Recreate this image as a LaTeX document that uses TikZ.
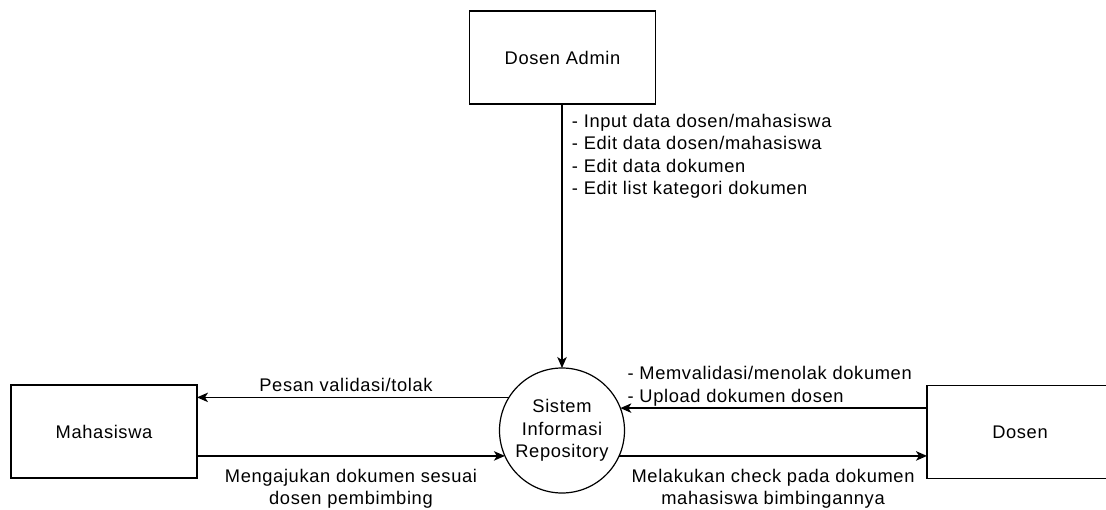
\documentclass[tikz,border=0pt]{standalone}
\usepackage{fontspec}
\setmainfont[LetterSpace=3.5]{Liberation Sans}
\usetikzlibrary{arrows.meta}
\tikzset{
	x=1pt, y=-1pt, % one unit is one pixel, y runs down
	>={Stealth[length=11pt, width=9.5pt, inset=3pt]}, % filled arrow heads
	every node/.style={font=\fontsize{18.3}{22.5}\selectfont},
	entity/.style={draw, line width=1.3pt, minimum width=186pt, minimum height=93pt, outer sep=0pt}, % external entities
	process/.style={draw, circle, line width=1.2pt, minimum size=125pt, inner sep=0pt, outer sep=0pt, align=center}, % the system itself
	flow/.style={->, line width=1.3pt}, % data flows
}

\begin{document}
\begin{tikzpicture}
	\useasboundingbox (0,0) rectangle (1106,509);
	\clip (0,0) rectangle (1106,509);

	\node[entity] (ADMIN) at (562.5,57.5) {Dosen Admin};
	\node[process] (SIR) at (562,430.5) {Sistem\\Informasi\\Repository};
	\node[entity] (MHS) at (104,431.5) {Mahasiswa};
	\node[entity] (DOSEN) at (1020,432) {Dosen};

	\draw[flow] (SIR.north |- ADMIN.south) -- (SIR.north) node[pos=0, anchor=north west, align=left, xshift=6pt, yshift=-6pt] {- Input data dosen/mahasiswa\\- Edit data dosen/mahasiswa\\- Edit data dokumen\\- Edit list kategori dokumen};
	\draw[flow] (SIR.148.7) -- (SIR.148.7 -| MHS.east) node[midway, above, xshift=-7pt, yshift=2pt] {Pesan validasi/tolak};
	\draw[flow] (MHS.east |- SIR.204.1) -- (SIR.204.1) node[midway, below, align=center, yshift=-9pt] {Mengajukan dokumen sesuai\\dosen pembimbing};
	\draw[flow] (DOSEN.west |- SIR.21.1) -- (SIR.21.1) node[midway, above, align=left, xshift=-4pt, yshift=-2pt] {- Memvalidasi/menolak dokumen\\- Upload dokumen dosen};
	\draw[flow] (SIR.336.9) -- (SIR.336.9 -| DOSEN.west) node[midway, below, align=center, yshift=-9pt] {Melakukan check pada dokumen\\mahasiswa bimbingannya};
\end{tikzpicture}
\end{document}
